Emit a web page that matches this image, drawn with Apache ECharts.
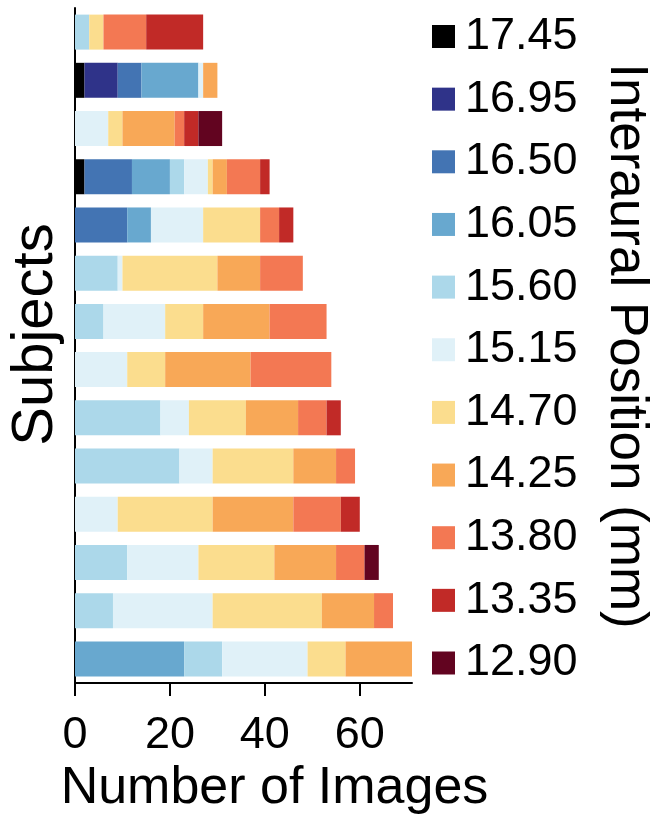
<!DOCTYPE html>
<html>
<head>
<meta charset="utf-8">
<title>Images per interaural position</title>
<script src="https://cdn.jsdelivr.net/npm/echarts@6/dist/echarts.min.js"></script>
<style>
  html, body { margin: 0; padding: 0; background: #ffffff; }
  #chart { width: 651px; height: 821px; }
</style>
</head>
<body>
<div id="chart"></div>
<script>
// Subjects, listed top to bottom
const subjects = ['S1', 'S2', 'S3', 'S4', 'S5', 'S6', 'S7', 'S8', 'S9', 'S10', 'S11', 'S12', 'S13', 'S14'];

// Interaural positions (mm), in stacking order from left to right
const positions = ['17.45', '16.95', '16.50', '16.05', '15.60', '15.15', '14.70', '14.25', '13.80', '13.35', '12.90'];

// Number of images per subject at each interaural position
const p1745 = [0, 2, 0, 2, 0, 0, 0, 0, 0, 0, 0, 0, 0, 0];
const p1695 = [0, 7, 0, 0, 0, 0, 0, 0, 0, 0, 0, 0, 0, 0];
const p1650 = [0, 5, 0, 10, 11, 0, 0, 0, 0, 0, 0, 0, 0, 0];
const p1605 = [0, 12, 0, 8, 5, 0, 0, 0, 0, 0, 0, 0, 0, 23];
const p1560 = [3, 0, 0, 3, 0, 9, 6, 0, 18, 22, 0, 11, 8, 8];
const p1515 = [0, 1, 7, 5, 11, 1, 13, 11, 6, 7, 9, 15, 21, 18];
const p1470 = [3, 0, 3, 1, 12, 20, 8, 8, 12, 17, 20, 16, 23, 8];
const p1425 = [0, 3, 11, 3, 0, 9, 14, 18, 11, 9, 17, 13, 11, 14];
const p1380 = [9, 0, 2, 7, 4, 9, 12, 17, 6, 4, 10, 6, 4, 0];
const p1335 = [12, 0, 3, 2, 3, 0, 0, 0, 3, 0, 4, 0, 0, 0];
const p1290 = [0, 0, 5, 0, 0, 0, 0, 0, 0, 0, 0, 3, 0, 0];

const counts = [p1745, p1695, p1650, p1605, p1560, p1515, p1470, p1425, p1380, p1335, p1290];

// x-axis tick values
const xTicks = [0, 20, 40, 60];

const palette = ['#000000', '#2f3389', '#4374b3', '#68a8cf', '#acd8ea', '#e0f1f8',
                 '#fbdd8e', '#f8a857', '#f37853', '#c12a27', '#620420'];

const FONT = '"Liberation Sans", Arial, Helvetica, sans-serif';

const chart = echarts.init(document.getElementById('chart'), null, { renderer: 'canvas' });

const series = positions.map((name, i) => ({
  name: name,
  type: 'bar',
  stack: 'total',
  barWidth: 35,
  data: counts[i],
  itemStyle: { color: palette[i] },
  emphasis: { disabled: true }
}));

chart.setOption({
  animation: false,
  backgroundColor: '#ffffff',
  color: palette,
  grid: { left: 75, right: 239, top: 8, bottom: 138, containLabel: false, outerBoundsMode: 'none' },
  xAxis: {
    type: 'value',
    min: 0,
    max: 71,
    interval: 20,
    name: 'Number of Images',
    nameLocation: 'middle',
    nameGap: 80,
    nameTextStyle: { fontFamily: FONT, fontSize: 52, color: '#000', padding: [0, 0, 0, 62] },
    axisLine: { show: true, lineStyle: { color: '#000', width: 2 } },
    axisTick: { show: true, length: 13, lineStyle: { color: '#000', width: 2 }, customValues: xTicks },
    axisLabel: { fontFamily: FONT, fontSize: 45, color: '#000', margin: 30, customValues: xTicks },
    splitLine: { show: false }
  },
  yAxis: {
    type: 'category',
    data: subjects,
    inverse: true,
    name: 'Subjects',
    nameLocation: 'middle',
    nameGap: 10,
    nameRotate: 90,
    nameTextStyle: { fontFamily: FONT, fontSize: 58, color: '#000', padding: [0, 0, 0, 22] },
    axisLine: { show: true, lineStyle: { color: '#000', width: 2 } },
    axisTick: { show: false },
    axisLabel: { show: false },
    splitLine: { show: false }
  },
  legend: {
    orient: 'vertical',
    left: 432,
    top: 14,
    padding: 0,
    itemWidth: 23,
    itemHeight: 23,
    itemGap: 17.65,
    icon: 'rect',
    selectedMode: false,
    data: positions,
    textStyle: { fontFamily: FONT, fontSize: 45, color: '#000', padding: [0, 0, 0, 5] }
  },
  graphic: [{
    type: 'text',
    x: 626,
    y: 346,
    rotation: -Math.PI / 2,
    style: {
      text: 'Interaural Position (mm)',
      fontFamily: FONT,
      fontSize: 53,
      fill: '#000',
      align: 'center',
      verticalAlign: 'middle'
    }
  }],
  series: series
});
</script>
</body>
</html>
